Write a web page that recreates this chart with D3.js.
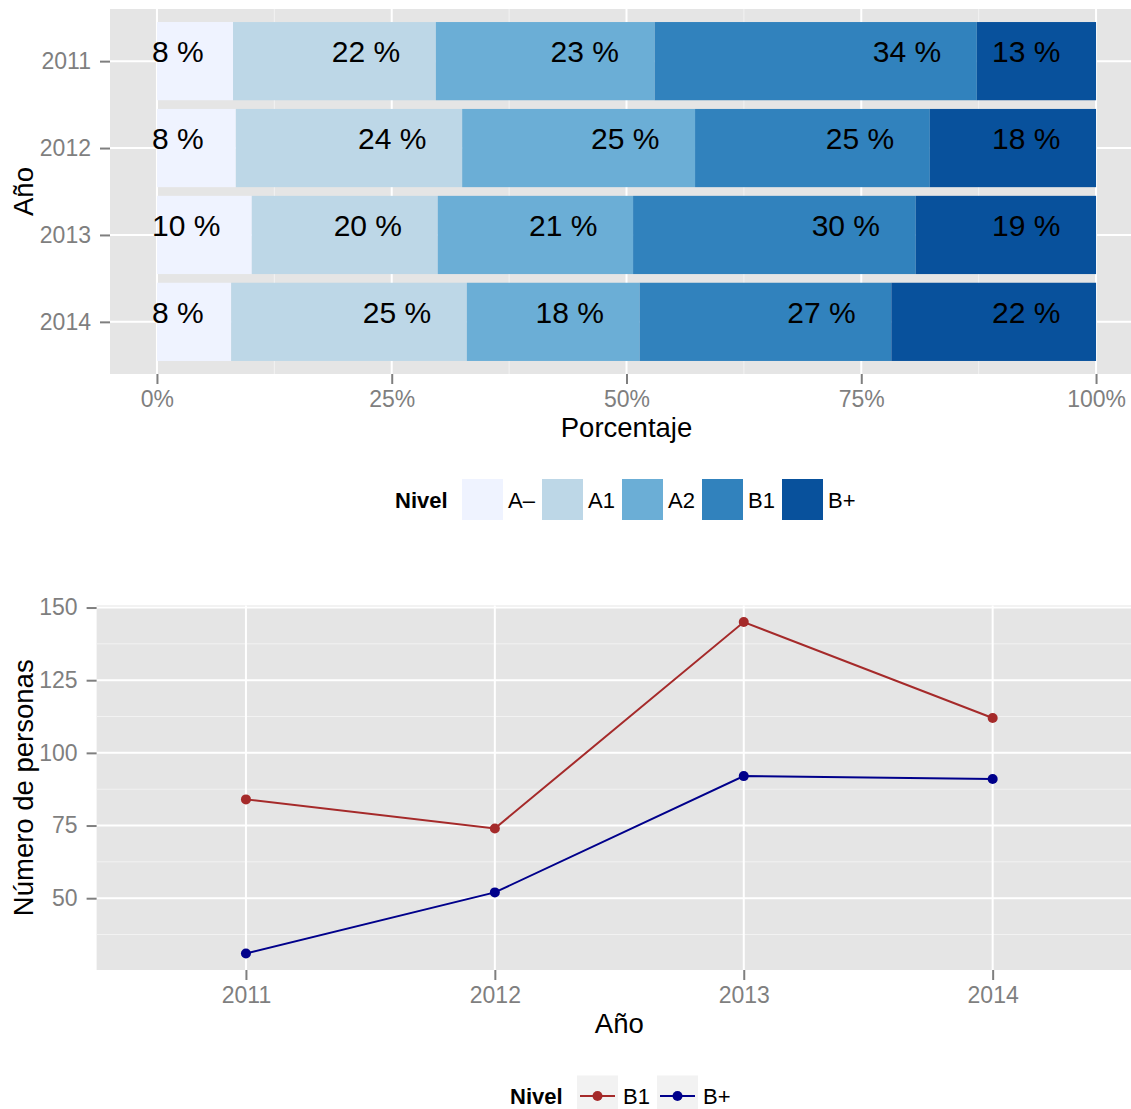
<!DOCTYPE html>
<html>
<head>
<meta charset="utf-8">
<script src="https://cdn.jsdelivr.net/npm/d3@7"></script>
<style>
  html, body { margin: 0; padding: 0; background: #fff; overflow: hidden; }
  svg { display: block; font-family: "Liberation Sans", Arial, sans-serif; }
  .tick text { fill: #7f7f7f; font-size: 23px; }
  .tick line { stroke: #7f7f7f; stroke-width: 2; }
</style>
</head>
<body>
<svg id="chart" width="1131" height="1109"></svg>
<script>
// ---- data ----
const years = ['2011', '2012', '2013', '2014'];
const levels = ['A–', 'A1', 'A2', 'B1', 'B+'];
const levelColors = ['#eff3ff', '#bdd7e7', '#6baed6', '#3182bd', '#08519c'];

// share of people per level and year (%)
const pctAminus = [8.1, 8.4, 10.1, 7.9];
const pctA1 = [21.6, 24.1, 19.8, 25.1];
const pctA2 = [23.3, 24.8, 20.8, 18.4];
const pctB1 = [34.3, 25.0, 30.1, 26.8];
const pctBplus = [12.7, 17.7, 19.2, 21.8];
const pctTicks = [0, 25, 50, 75, 100];

// number of people in B1 / B+
const lineLevels = ['B1', 'B+'];
const lineColors = ['#a52a2a', '#00008b'];
const countB1 = [84, 74, 145, 112];
const countBplus = [31, 52, 92, 91];
const countTicks = [50, 75, 100, 125, 150];

const svg = d3.select('#chart');
const GRID_MAJOR = { stroke: '#ffffff', width: 2 };
const GRID_MINOR = { stroke: '#f2f2f2', width: 1 };

function midpoints(ticks) {
    const step = ticks[1] - ticks[0];
    return d3.range(ticks[0] - step / 2, ticks[ticks.length - 1] + step, step);
}

// ================= top: stacked bars =================
const pctSeries = [pctAminus, pctA1, pctA2, pctB1, pctBplus];
const barRows = years.map((year, i) => {
    let cum = 0;
    return pctSeries.map((s, j) => {
        const seg = { year, level: levels[j], value: s[i], x0: cum, x1: cum + s[i] };
        cum += s[i];
        return seg;
    });
}).flat();

const box1 = { left: 110, right: 1143, top: 9, bottom: 374 };
const xPct = d3.scaleLinear().domain([-5, 105]).range([box1.left, box1.right]);
const yYear = d3.scalePoint().domain(years).range([box1.top, box1.bottom]).padding(0.6);
const barH = yYear.step() * 0.9;

const g1 = svg.append('g');
g1.append('rect')
    .attr('x', box1.left).attr('y', box1.top)
    .attr('width', box1.right - box1.left).attr('height', box1.bottom - box1.top)
    .attr('fill', '#e5e5e5');

// grid
g1.selectAll('.vminor')
    .data(midpoints(pctTicks).filter((d) => d > -5 && d < 105))
    .join('line')
    .attr('x1', (d) => xPct(d)).attr('x2', (d) => xPct(d))
    .attr('y1', box1.top).attr('y2', box1.bottom)
    .attr('stroke', GRID_MINOR.stroke).attr('stroke-width', GRID_MINOR.width);
g1.selectAll('.vmajor')
    .data(pctTicks)
    .join('line')
    .attr('x1', (d) => xPct(d)).attr('x2', (d) => xPct(d))
    .attr('y1', box1.top).attr('y2', box1.bottom)
    .attr('stroke', GRID_MAJOR.stroke).attr('stroke-width', GRID_MAJOR.width);
g1.selectAll('.hmajor')
    .data(years)
    .join('line')
    .attr('x1', box1.left).attr('x2', box1.right)
    .attr('y1', (d) => yYear(d)).attr('y2', (d) => yYear(d))
    .attr('stroke', GRID_MAJOR.stroke).attr('stroke-width', GRID_MAJOR.width);

// bars
g1.selectAll('.bar')
    .data(barRows)
    .join('rect')
    .attr('x', (d) => xPct(d.x0))
    .attr('width', (d) => xPct(d.x1) - xPct(d.x0))
    .attr('y', (d) => yYear(d.year) - barH / 2)
    .attr('height', barH)
    .attr('fill', (d) => levelColors[levels.indexOf(d.level)]);

// labels: right edge a few points before the end of each segment
g1.selectAll('.lbl')
    .data(barRows)
    .join('text')
    .attr('y', (d) => yYear(d.year) + 1)
    .attr('text-anchor', 'end')
    .attr('font-size', 30)
    .attr('fill', '#000')
    .text((d) => `${Math.round(d.value)} %`)
    .each(function (d) {
        const w = this.getComputedTextLength();
        const right = Math.max(xPct(d.x1 - 3.8), xPct(0) - 5 + w);
        d3.select(this).attr('x', right);
    });

// axes
g1.append('g')
    .attr('transform', `translate(${box1.left},0)`)
    .call(d3.axisLeft(yYear).tickSize(10).tickPadding(9))
    .call((a) => a.select('.domain').remove());
g1.append('g')
    .attr('transform', `translate(0,${box1.bottom})`)
    .call(d3.axisBottom(xPct).tickValues(pctTicks).tickFormat((d) => `${d}%`).tickSize(10).tickPadding(7))
    .call((a) => a.select('.domain').remove());

g1.append('text')
    .attr('x', (box1.left + box1.right) / 2).attr('y', 437)
    .attr('text-anchor', 'middle').attr('font-size', 27.5)
    .text('Porcentaje');
g1.append('text')
    .attr('transform', `translate(33,${(box1.top + box1.bottom) / 2}) rotate(-90)`)
    .attr('text-anchor', 'middle').attr('font-size', 27.5)
    .text('Año');

// legend
const leg1 = svg.append('g').attr('transform', 'translate(395,499.5)');
leg1.append('text').attr('y', 8).attr('font-size', 22).attr('font-weight', 'bold').text('Nivel');
levels.forEach((lv, i) => {
    const kx = 67 + i * 80;
    leg1.append('rect')
        .attr('x', kx).attr('y', -20.5).attr('width', 41).attr('height', 41)
        .attr('fill', levelColors[i]);
    leg1.append('text').attr('x', kx + 46).attr('y', 8).attr('font-size', 22).text(lv);
});

// ================= bottom: lines =================
const box2 = { left: 96.6, right: 1142, top: 605.5, bottom: 970 };
const allCounts = countB1.concat(countBplus);
const [cMin, cMax] = d3.extent(allCounts);
const pad = (cMax - cMin) * 0.05;
const xYear = d3.scalePoint().domain(years).range([box2.left, box2.right]).padding(0.6);
const yCount = d3.scaleLinear().domain([cMin - pad, cMax + pad]).range([box2.bottom, box2.top]);

const g2 = svg.append('g');
g2.append('rect')
    .attr('x', box2.left).attr('y', box2.top)
    .attr('width', box2.right - box2.left).attr('height', box2.bottom - box2.top)
    .attr('fill', '#e5e5e5');

const [dMin, dMax] = yCount.domain();
g2.selectAll('.hminor')
    .data(midpoints(countTicks).filter((d) => d > dMin && d < dMax))
    .join('line')
    .attr('x1', box2.left).attr('x2', box2.right)
    .attr('y1', (d) => yCount(d)).attr('y2', (d) => yCount(d))
    .attr('stroke', GRID_MINOR.stroke).attr('stroke-width', GRID_MINOR.width);
g2.selectAll('.hmajor')
    .data(countTicks)
    .join('line')
    .attr('x1', box2.left).attr('x2', box2.right)
    .attr('y1', (d) => yCount(d)).attr('y2', (d) => yCount(d))
    .attr('stroke', GRID_MAJOR.stroke).attr('stroke-width', GRID_MAJOR.width);
g2.selectAll('.vmajor')
    .data(years)
    .join('line')
    .attr('x1', (d) => xYear(d)).attr('x2', (d) => xYear(d))
    .attr('y1', box2.top).attr('y2', box2.bottom)
    .attr('stroke', GRID_MAJOR.stroke).attr('stroke-width', GRID_MAJOR.width);

const lineSeries = [countB1, countBplus];
const line = d3.line().x((d, i) => xYear(years[i])).y((d) => yCount(d));
lineSeries.forEach((s, k) => {
    g2.append('path')
        .attr('d', line(s))
        .attr('fill', 'none')
        .attr('stroke', lineColors[k])
        .attr('stroke-width', 2);
    g2.selectAll(`.pt${k}`)
        .data(s)
        .join('circle')
        .attr('cx', (d, i) => xYear(years[i]))
        .attr('cy', (d) => yCount(d))
        .attr('r', 5)
        .attr('fill', lineColors[k]);
});

g2.append('g')
    .attr('transform', `translate(${box2.left},0)`)
    .call(d3.axisLeft(yCount).tickValues(countTicks).tickSize(10).tickPadding(9))
    .call((a) => a.select('.domain').remove());
g2.append('g')
    .attr('transform', `translate(0,${box2.bottom})`)
    .call(d3.axisBottom(xYear).tickSize(10).tickPadding(7))
    .call((a) => a.select('.domain').remove());

g2.append('text')
    .attr('x', (box2.left + box2.right) / 2).attr('y', 1033)
    .attr('text-anchor', 'middle').attr('font-size', 27.5)
    .text('Año');
g2.append('text')
    .attr('transform', `translate(33,${(box2.top + box2.bottom) / 2}) rotate(-90)`)
    .attr('text-anchor', 'middle').attr('font-size', 27.5)
    .text('Número de personas');

const leg2 = svg.append('g').attr('transform', 'translate(510,1096)');
leg2.append('text').attr('y', 8).attr('font-size', 22).attr('font-weight', 'bold').text('Nivel');
lineLevels.forEach((lv, i) => {
    const kx = 67 + i * 80;
    leg2.append('rect')
        .attr('x', kx).attr('y', -20.5).attr('width', 41).attr('height', 41)
        .attr('fill', '#f2f2f2');
    leg2.append('line')
        .attr('x1', kx + 3).attr('x2', kx + 38)
        .attr('stroke', lineColors[i]).attr('stroke-width', 2);
    leg2.append('circle').attr('cx', kx + 20.5).attr('r', 5).attr('fill', lineColors[i]);
    leg2.append('text').attr('x', kx + 46).attr('y', 8).attr('font-size', 22).text(lv);
});
</script>
</body>
</html>
